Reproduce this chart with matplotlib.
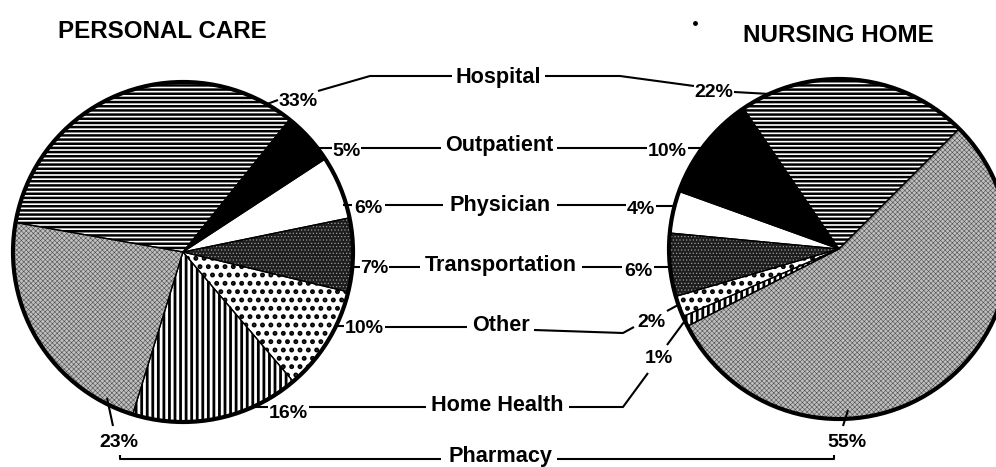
import matplotlib
matplotlib.use("Agg")
import matplotlib.pyplot as plt
from matplotlib import font_manager as fm
from matplotlib.patches import Circle

# ---- data -------------------------------------------------------------
categories = ["Hospital", "Outpatient", "Physician", "Transportation",
              "Other", "Home Health", "Pharmacy"]
personal_care = [33, 5, 6, 7, 10, 16, 23]
nursing_home = [22, 10, 4, 6, 2, 1, 55]
titles = ["PERSONAL CARE", "NURSING HOME"]

# ---- canvas (pixel-like coordinates, y measured from the top) ---------
W, H = 996, 467
fig = plt.figure(figsize=(W / 100, H / 100), dpi=100)
ax = fig.add_axes([0, 0, 1, 1])


def Y(py):
    return H - py


def font_available(name):
    try:
        fm.findfont(fm.FontProperties(family=name, weight="bold"),
                    fallback_to_default=False)
        return True
    except Exception:
        return False


if font_available("Liberation Sans Narrow"):
    FAMILY = ["Liberation Sans Narrow", "DejaVu Sans"]
    TITLE_SIZE, LABEL_SIZE, PCT_SIZE = 20.5, 19, 16.5
else:
    FAMILY = ["Liberation Sans", "DejaVu Sans"]
    TITLE_SIZE, LABEL_SIZE, PCT_SIZE = 17.4, 15.6, 14.0

# ---- fill patterns per category ---------------------------------------
styles = {
    "Hospital":       dict(fc="white",   ec="black",   hatch="----",    hlw=1.8),
    "Outpatient":     dict(fc="black",   ec="black",   hatch=None,      hlw=1.0),
    "Physician":      dict(fc="white",   ec="white",   hatch=None,      hlw=1.0),
    "Transportation": dict(fc="#1e1e1e", ec="#9a9a9a", hatch=".....",   hlw=0.5),
    "Other":          dict(fc="white",   ec="black",   hatch="..",      hlw=2.3),
    "Home Health":    dict(fc="white",   ec="black",   hatch="|||",     hlw=2.0),
    "Pharmacy":       dict(fc="#bfbfbf", ec="#4f4f4f", hatch="xxxxxxx", hlw=0.4),
}
plt.rcParams["hatch.linewidth"] = 1.2


def draw_pie(values, center, radius, start, ccw):
    wedges, _ = ax.pie(values, center=center, radius=radius,
                       startangle=start, counterclock=ccw, frame=True,
                       wedgeprops=dict(linewidth=0))
    for w, cat in zip(wedges, categories):
        st = styles[cat]
        w.set_facecolor(st["fc"])
        w.set_edgecolor(st["ec"])
        w.set_linewidth(0)
        if st["hatch"]:
            w.set_hatch(st["hatch"])
            if hasattr(w, "set_hatch_linewidth"):
                w.set_hatch_linewidth(st["hlw"])
    # thin separators between slices
    ax.pie(values, center=center, radius=radius, startangle=start,
           counterclock=ccw, frame=True,
           wedgeprops=dict(facecolor="none", edgecolor="black", linewidth=0.9))
    ax.add_patch(Circle(center, radius, fill=False, ec="black", lw=3.0,
                        zorder=5))


draw_pie(personal_care, (183, Y(252)), 170, 170, False)
draw_pie(nursing_home, (839, Y(249)), 170, 45, True)

# ---- text ---------------------------------------------------------------
def txt(x, yb, s, size):
    ax.text(x, Y(yb), s, ha="center", va="baseline", family=FAMILY,
            weight="bold", size=size, color="black", zorder=6)


txt(162, 38, titles[0], TITLE_SIZE)
txt(838, 42, titles[1], TITLE_SIZE)

label_pos = [(498, 83), (499, 151), (500, 211), (501, 271),
             (501, 331), (497, 411), (500, 462)]
left_pct_pos = [(298, 106), (346, 156), (368, 213), (374, 273),
                (364, 333), (288, 418), (119, 447)]
right_pct_pos = [(714, 97), (667, 156), (641, 214), (638, 276),
                 (651, 327), (659, 363), (847, 447)]

for cat, (x, yb) in zip(categories, label_pos):
    txt(x, yb, cat, LABEL_SIZE)
for v, (x, yb) in zip(personal_care, left_pct_pos):
    txt(x, yb, f"{v}%", PCT_SIZE)
for v, (x, yb) in zip(nursing_home, right_pct_pos):
    txt(x, yb, f"{v}%", PCT_SIZE)

# ---- leader lines -------------------------------------------------------
leaders = [
    # Hospital
    [(267, 104), (278, 100)],
    [(318, 91), (370, 76), (452, 76)],
    [(545, 76), (620, 76), (694, 86)],
    [(734, 92), (770, 94)],
    # Outpatient
    [(317, 148), (332, 148)],
    [(361, 148), (441, 148)],
    [(557, 148), (647, 148)],
    [(688, 148), (703, 148)],
    # Physician
    [(343, 205), (352, 205)],
    [(385, 205), (443, 205)],
    [(557, 205), (626, 205)],
    [(656, 206), (674, 206)],
    # Transportation
    [(351, 267), (360, 267)],
    [(389, 267), (420, 267)],
    [(582, 267), (622, 267)],
    [(654, 267), (671, 267)],
    # Other
    [(336, 326), (344, 326)],
    [(385, 327), (467, 327)],
    [(534, 330), (623, 333), (634, 327)],
    [(667, 311), (678, 305)],
    # Home Health
    [(253, 407), (268, 407)],
    [(309, 407), (426, 407)],
    [(569, 407), (623, 407), (648, 373)],
    [(667, 345), (684, 322)],
    # Pharmacy
    [(113, 426), (107, 398)],
    [(120, 455), (120, 459), (441, 459)],
    [(557, 459), (834, 459), (834, 455)],
    [(843, 426), (848, 410)],
]
for pts in leaders:
    xs = [p[0] for p in pts]
    ys = [Y(p[1]) for p in pts]
    ax.plot(xs, ys, color="black", lw=1.5, solid_capstyle="butt", zorder=4)

# small printing speck beside the right title
ax.plot([695], [Y(23)], "o", ms=2.5, color="black", zorder=6)

ax.set_xlim(0, W)
ax.set_ylim(0, H)
ax.axis("off")
fig.savefig("out.png", dpi=100, facecolor="white")
